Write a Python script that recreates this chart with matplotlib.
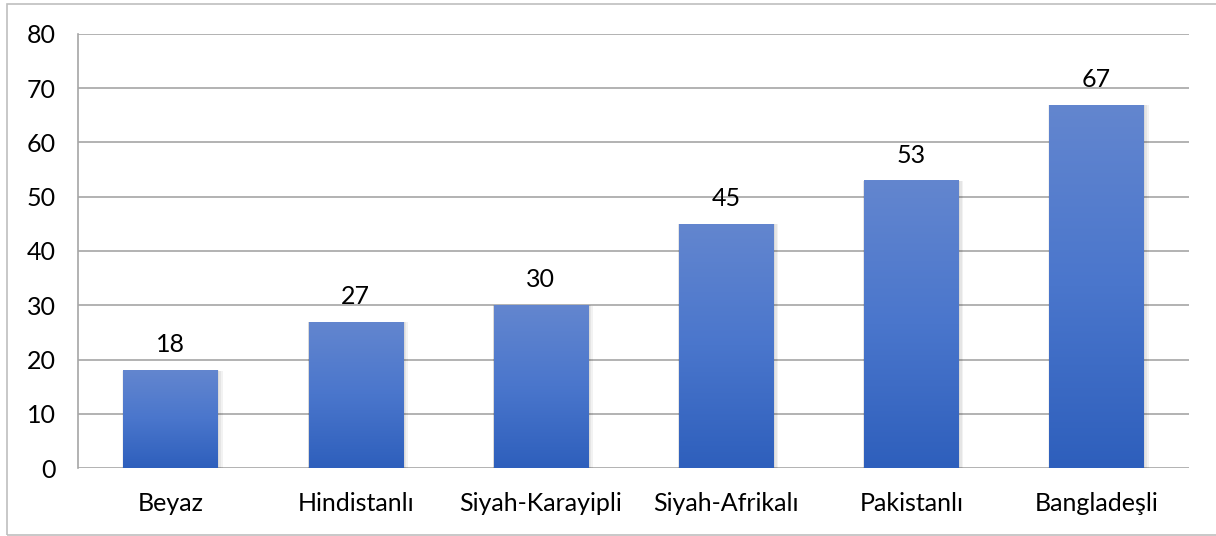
import numpy as np
import matplotlib.pyplot as plt
from matplotlib.patches import Rectangle
from matplotlib.colors import LinearSegmentedColormap

categories = ["Beyaz", "Hindistanlı", "Siyah-Karayipli", "Siyah-Afrikalı", "Pakistanlı", "Bangladeşli"]
values = [18, 27, 30, 45, 53, 67]
yticks = [0, 10, 20, 30, 40, 50, 60, 70, 80]

plt.rcParams['font.family'] = ['Lato', 'DejaVu Sans']

fig = plt.figure(figsize=(12.16, 5.36), dpi=100)
ax = fig.add_axes([78 / 1216, 1 - 468 / 536, (1189 - 78) / 1216, (468 - 34) / 536])

# outer chart border
fig.patches.append(Rectangle((7 / 1216, 1 / 536), 1.0, 531 / 536, transform=fig.transFigure,
                             fill=False, edgecolor='#bfbfbf', linewidth=1.2))

cmap = LinearSegmentedColormap.from_list('bar', ['#2e5fbc', '#4a76cc', '#6386cf'])
grad = np.linspace(0, 1, 256).reshape(-1, 1)
width = 0.51
fs = 18

x = np.arange(len(categories))
for xi, v in zip(x, values):
    # soft shadow
    for k, a in enumerate([0.05, 0.05, 0.05]):
        d = 0.006 * (k + 1)
        ax.add_patch(Rectangle((xi - width / 2 - d * 0.3, -0.2), width + d * 1.8, v + 0.2 - d * 3,
                               facecolor='black', alpha=a, edgecolor='none', zorder=2))
    bar = Rectangle((xi - width / 2, 0), width, v, facecolor='none', edgecolor='none', zorder=3)
    ax.add_patch(bar)
    im = ax.imshow(grad, cmap=cmap, aspect='auto', origin='lower',
                   extent=(xi - width / 2, xi + width / 2, 0, v), zorder=3)
    im.set_clip_path(bar)
    ax.annotate(str(v), (xi, v), xytext=(0, 10), textcoords='offset points',
                ha='center', va='bottom', fontsize=fs, color='#000000')

ax.set_xlim(-0.5, len(categories) - 0.5)
ax.set_ylim(0, 80)
ax.set_yticks(yticks)
ax.set_xticks(x)
ax.set_xticklabels(categories)
ax.tick_params(axis='both', length=0, labelsize=fs, colors='#000000')
ax.tick_params(axis='x', pad=17)
ax.tick_params(axis='y', pad=16)
ax.grid(axis='y', color='#a6a6a6', linewidth=1.2)
ax.set_axisbelow(True)
for s in ['top', 'right', 'bottom']:
    ax.spines[s].set_visible(False)
ax.spines['left'].set_color('#a6a6a6')
ax.spines['left'].set_linewidth(1.2)

fig.savefig('out.png', dpi=100)
